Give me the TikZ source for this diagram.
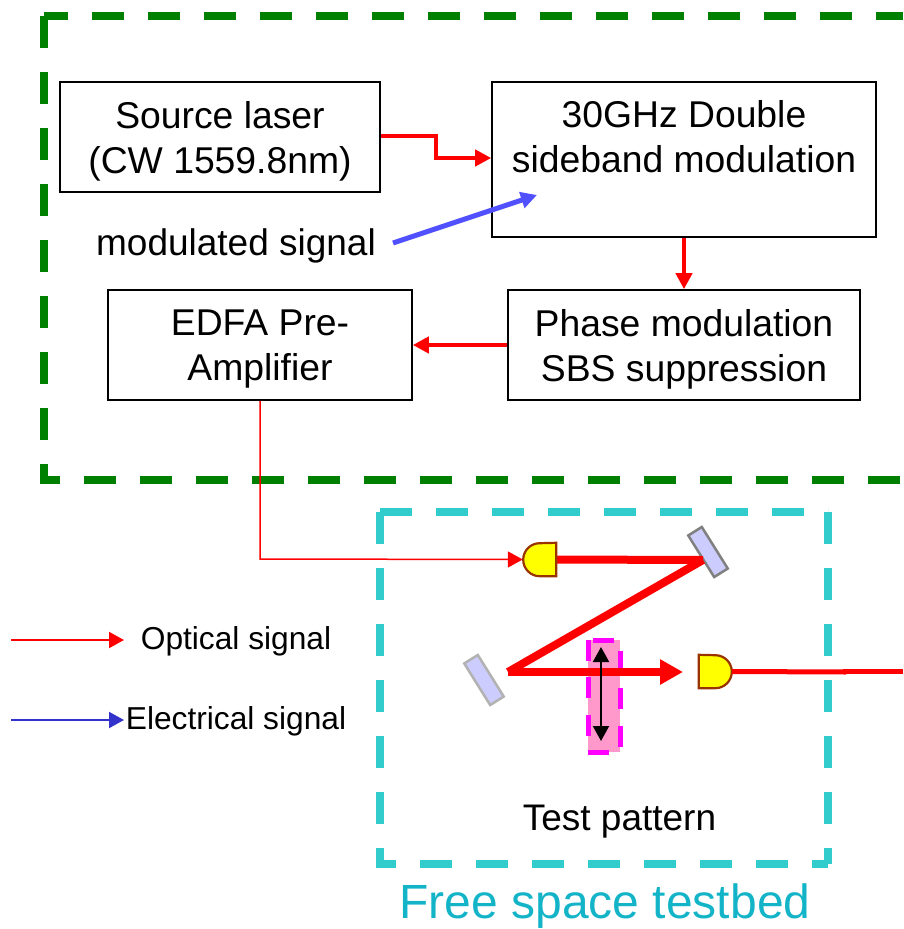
\documentclass[tikz,border=0pt]{standalone}
\usepackage{fontspec}
\setmainfont{Liberation Sans}
\usetikzlibrary{arrows.meta}
\definecolor{laserred}{HTML}{FF0000}
\definecolor{sourcegreen}{HTML}{008000}
\definecolor{bedteal}{HTML}{33CCCC}
\definecolor{bedtext}{HTML}{14B4C8}
\definecolor{mirrorblue}{HTML}{CCCCFF}
\definecolor{patternpink}{HTML}{FF99CC}
\definecolor{patternedge}{HTML}{FF00FF}
\definecolor{detyellow}{HTML}{FFFF00}
\definecolor{detbrown}{HTML}{993300}
\definecolor{modblue}{HTML}{5050FF}
\definecolor{legendblue}{HTML}{3333CC}

\begin{document}
\begin{tikzpicture}[x=1pt,y=-1pt,
			box/.style={draw=black,line width=1.6pt,inner sep=0pt,align=center,text depth=0pt,font=\fontsize{37.3}{45}\selectfont},
			label text/.style={inner sep=0pt,anchor=base,font=\fontsize{31.7}{38}\selectfont},
			big text/.style={inner sep=0pt,anchor=base,font=\fontsize{37}{45}\selectfont},
			red link/.style={draw=laserred,line width=4.5pt,-{Triangle[length=16pt,width=16pt]}},
			thin link/.style={draw=laserred,line width=1.5pt,-{Triangle[length=15pt,width=16pt]}},
			beam/.style={draw=laserred,line width=8pt},
			detector/.style={draw=detbrown,fill=detyellow,line width=2.2pt},
			mirror/.style={fill=mirrorblue,line width=2.5pt,minimum width=49pt,minimum height=16pt,inner sep=0pt,rotate=-58},
			anchor pt/.style={minimum size=33pt,inner sep=0pt}]
			\useasboundingbox (0,0) rectangle (903,929);
			% frames
			\draw[sourcegreen,line width=8pt,dash pattern=on 32pt off 24pt] (44,16) -- (44,480) -- (903,480);
			\draw[sourcegreen,line width=8pt,dash pattern=on 32pt off 24pt,dash phase=8pt] (44,16) -- (903,16);
			\draw[bedteal,line width=8pt,dash pattern=on 32pt off 24pt] (380,512) -- (380,864) -- (828,864) (380,512) -- (828,512) (828,512) -- (828,864);
			% boxes
			\node[box,minimum width=320pt,minimum height=110pt] (laser) at (220,137) {Source laser\\(CW 1559.8nm)};
			\node[box,minimum width=384pt,minimum height=155pt] (dsb) at (684,159.5) {};
			\node[inner sep=0pt,align=center,font=\fontsize{37.3}{45}\selectfont] (dsb_text) at (684,137) {30GHz Double\\sideband modulation};
			\node[box,minimum width=352pt,minimum height=110pt] (phase) at (684,345) {Phase modulation\\SBS suppression};
			\node[box,minimum width=304pt,minimum height=110pt] (edfa) at (260,345) {EDFA Pre-\\Amplifier};
			\node[big text] (modulated) at (236,255) {modulated signal};
			\coordinate (mod_start) at (393,243);
			\coordinate (mod_end) at (537,195);
			% links
			\draw[red link] (laser.east |- 0,136) -- (436,136) -- (436,158) -- (dsb.west |- 0,158);
			\draw[modblue,line width=5pt,-{Triangle[length=16pt,width=16pt]}] (mod_start) -- (mod_end);
			\draw[red link] (dsb.south) -- (phase.north);
			\draw[red link] (phase.west) -- (edfa.east);
			% test bed
			\node[anchor pt] (det_in) at (539.5,559.5) {};
			\node[anchor pt] (det_out) at (715.5,671.5) {};
			\node[mirror,draw=gray] (mirror_top) at (708,552) {};
			\node[mirror,draw=gray!60] (mirror_low) at (484,680) {};
			\coordinate (beam_top) at (703,560);
			\coordinate (beam_low) at (508,672);
			\coordinate (beam_end) at (683,672);
			\draw[fill=patternpink,draw=none] (588,640) rectangle (620,752);
			\draw[patternedge,line width=5pt,dash pattern=on 21pt off 16.5pt,dash phase=32.5pt] (588,640) -- (620,640) -- (620,752) -- (588,752) -- cycle;
			\draw[thin link] (edfa.south) -- (260,559) -- (det_in.west);
			\draw[beam] (det_in.east) -- (beam_top);
			\draw[beam] (beam_top) -- (beam_low);
			\draw[beam,-{Triangle[length=23pt,width=24pt]}] (beam_low) -- (beam_end);
			\draw[detector] (det_in.north east) -- (det_in.south east) -- ++(-16.5,0) arc (90:270:16.5) -- cycle;
			\draw[detector] (det_out.north west) -- (det_out.south west) -- ++(16.5,0) arc (90:-90:16.5) -- cycle;
			\coordinate (out_mid) at (846,672);
			\coordinate (out_end) at (903,671);
			\draw[laserred,line width=5pt] (det_out.east) -- (out_mid);
			\draw[laserred,line width=5pt] (843,671) -- (out_end);
			\coordinate (move_top) at (601,647);
			\coordinate (move_low) at (601,741);
			\draw[black,line width=2pt,{Triangle[length=15pt,width=16pt]}-{Triangle[length=15pt,width=16pt]}] (move_top) -- (move_low);
			% legend
			\coordinate (opt_start) at (11,640);
			\coordinate (opt_end) at (124,640);
			\coordinate (el_start) at (11,720);
			\coordinate (el_end) at (124,720);
			\draw[laserred,line width=2pt,-{Triangle[length=15pt,width=16pt]}] (opt_start) -- (opt_end);
			\draw[legendblue,line width=2pt,-{Triangle[length=15pt,width=16pt]}] (el_start) -- (el_end);
			\node[label text] (opt_label) at (236,649) {Optical signal};
			\node[label text] (el_label) at (236,729) {Electrical signal};
			\node[big text] (pattern) at (619.5,830) {Test pattern};
			\node[inner sep=0pt,anchor=base,text=bedtext,font=\fontsize{48}{58}\selectfont] (testbed) at (605,918.5) {Free space testbed};
		\end{tikzpicture}
\end{document}
